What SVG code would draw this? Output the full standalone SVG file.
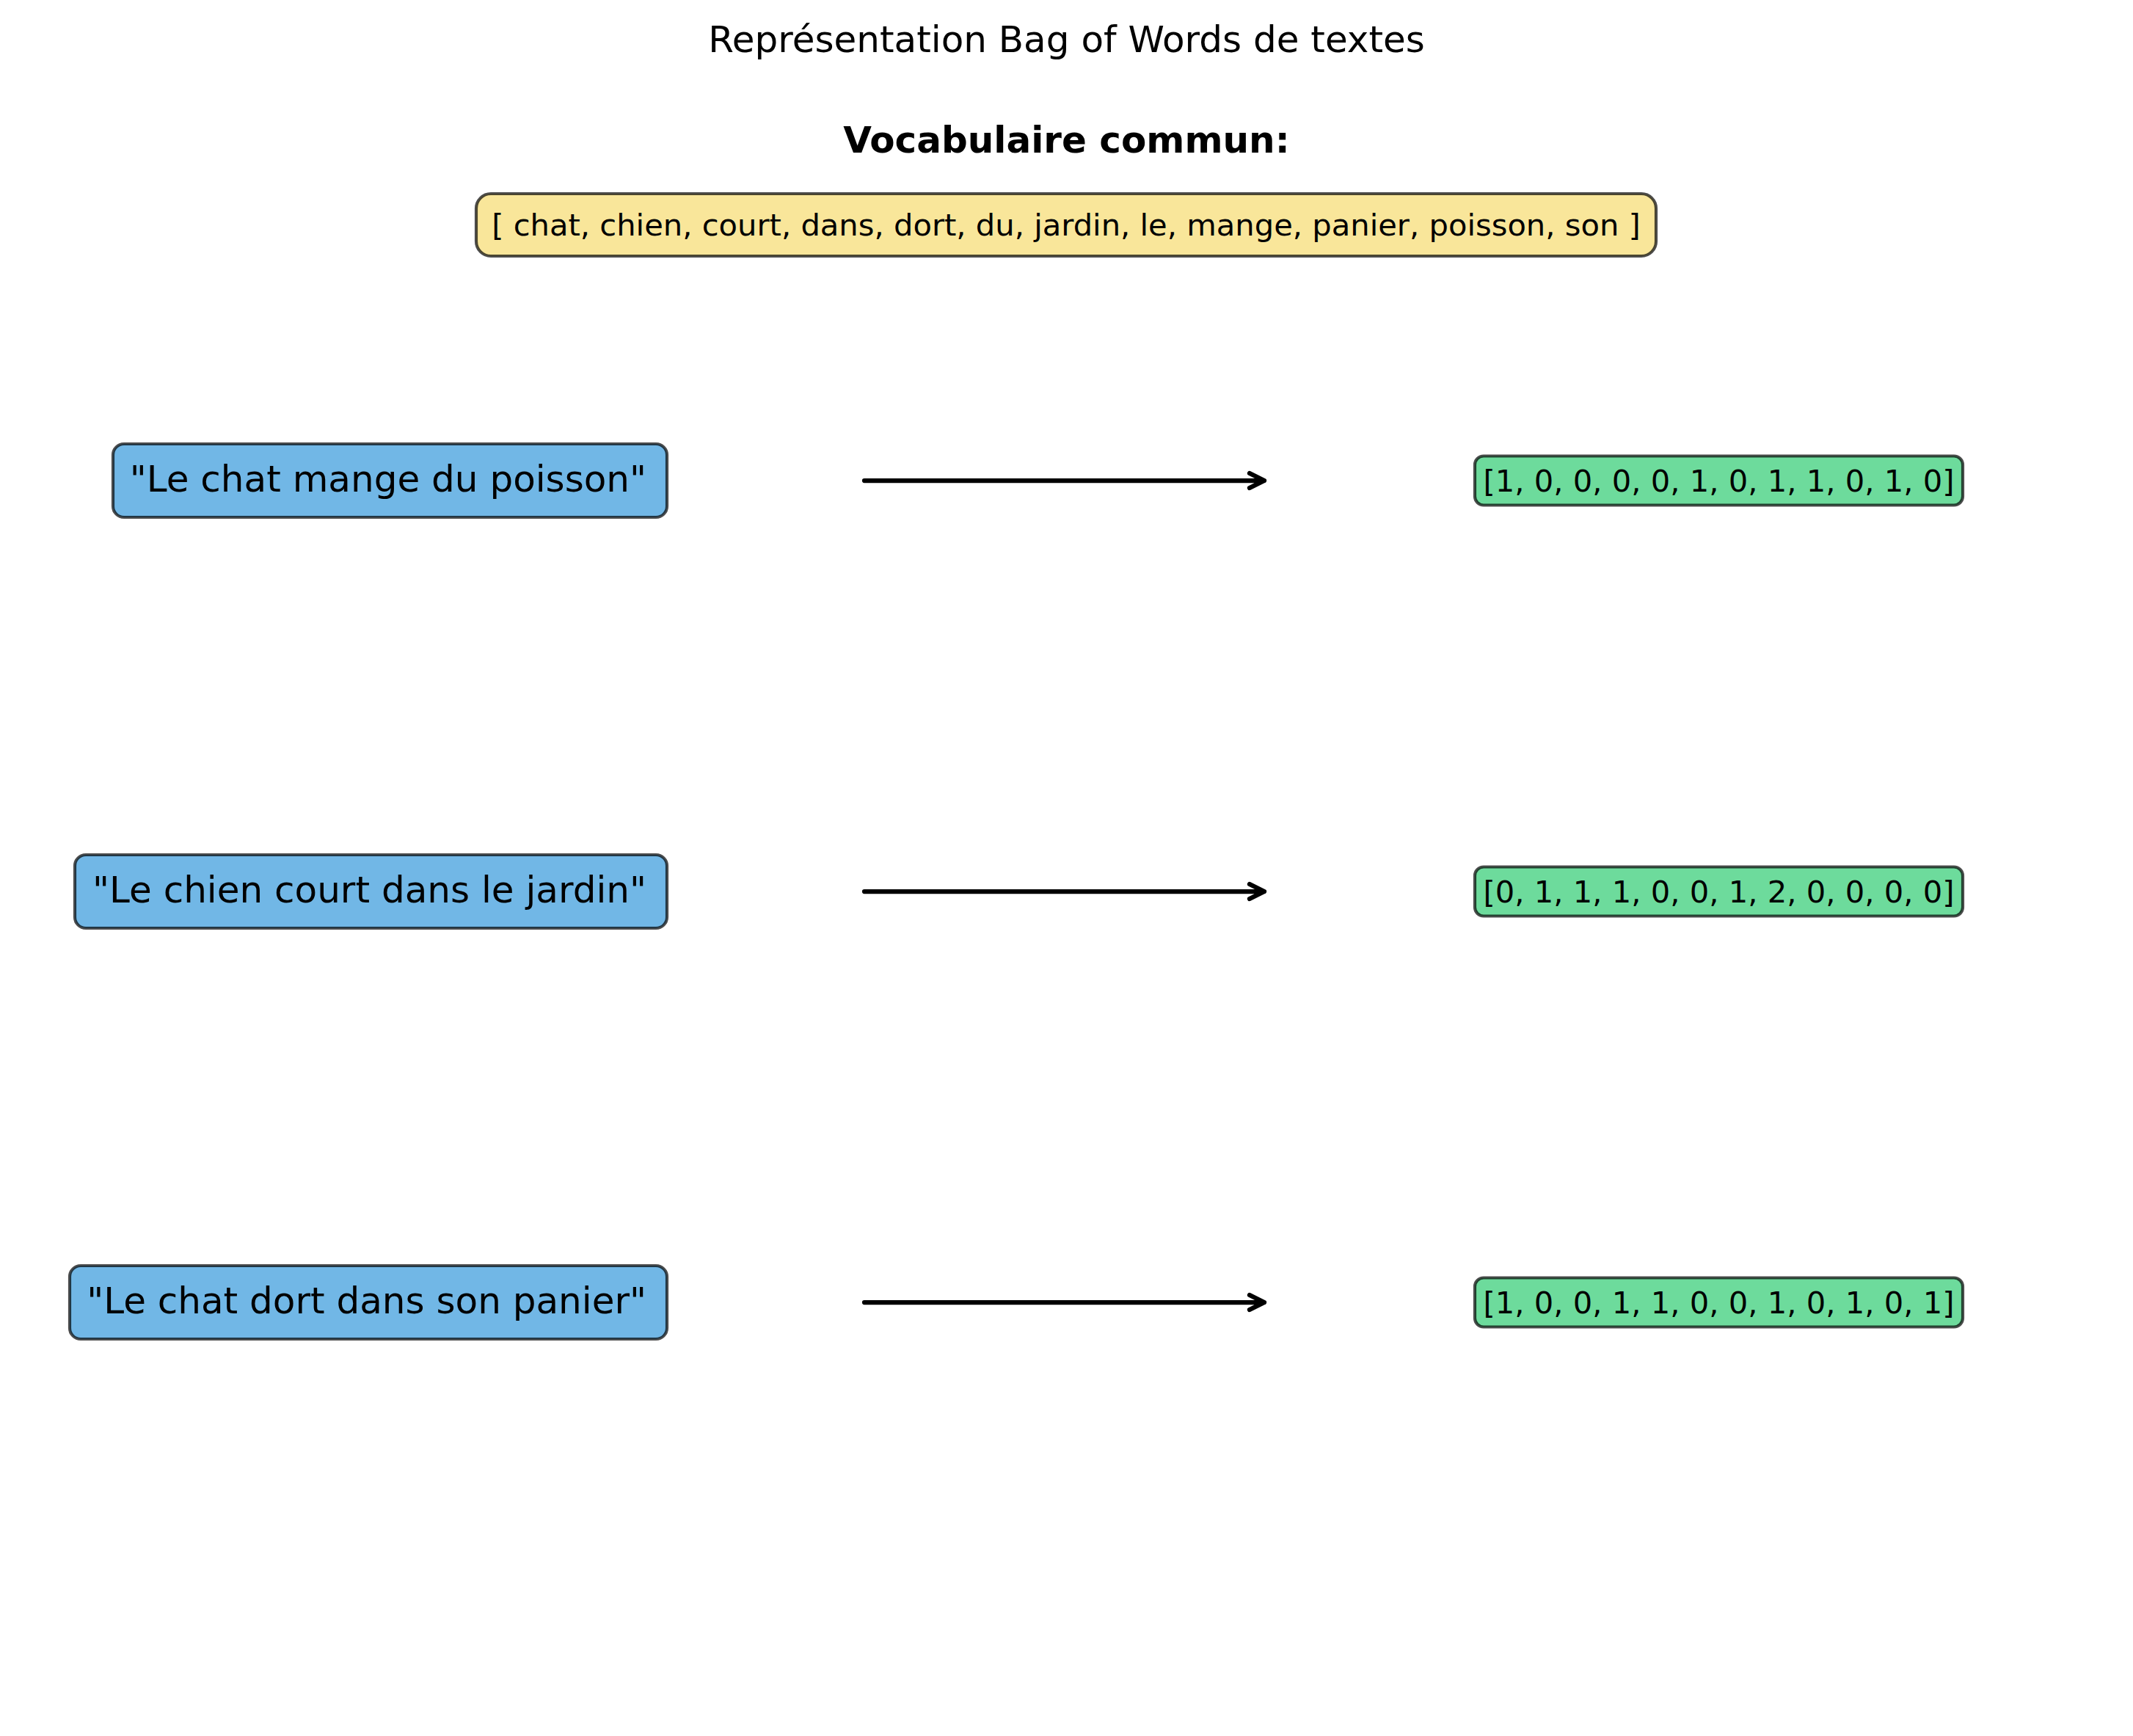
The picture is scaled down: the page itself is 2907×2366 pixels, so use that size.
<svg xmlns="http://www.w3.org/2000/svg" width="2907" height="2366" viewBox="0 0 2907 2366">
<style>
text { font-family: "DejaVu Sans", "Liberation Sans", sans-serif; fill: #000; }
.title { font-size: 50px; text-anchor: middle; }
.label { font-size: 50px; font-weight: bold; text-anchor: middle; }
.vocab { font-size: 41.67px; text-anchor: middle; }
.sent { font-size: 50px; text-anchor: end; }
.vec { font-size: 41.67px; text-anchor: middle; }
.box { stroke: #000; stroke-opacity: 0.7; stroke-width: 4.17; }
.yellow { fill: #f9e69a; }
.blue { fill: #71b7e6; }
.green { fill: #6ddb9c; }
.conn { stroke: #000; stroke-width: 6.25; fill: none; stroke-linecap: round; stroke-linejoin: round; }
</style>
<rect width="2907" height="2366" fill="#ffffff"/>
<text class="title" x="1453.5" y="71">Représentation Bag of Words de textes</text>
<g id="vocab-title">
<text class="label" x="1453.5" y="208">Vocabulaire commun:</text>
</g>
<g id="vocab">
<rect class="box yellow" x="649" y="264" width="1608" height="85" rx="20" ry="20"/>
<text class="vocab" x="1453" y="321">[ chat, chien, court, dans, dort, du, jardin, le, mange, panier, poisson, son ]</text>
</g>
<g id="text1">
<rect class="box blue" x="154" y="605" width="755" height="100" rx="15" ry="15"/>
<text class="sent" x="881" y="670">"Le chat mange du poisson"</text>
</g>
<g id="text2">
<rect class="box blue" x="102" y="1165" width="807" height="100" rx="15" ry="15"/>
<text class="sent" x="881" y="1230">"Le chien court dans le jardin"</text>
</g>
<g id="text3">
<rect class="box blue" x="95" y="1725" width="814" height="100" rx="15" ry="15"/>
<text class="sent" x="881" y="1790">"Le chat dort dans son panier"</text>
</g>
<g id="vector1">
<rect class="box green" x="2010" y="621.5" width="665" height="67" rx="12" ry="12"/>
<text class="vec" x="2342.5" y="670">[1, 0, 0, 0, 0, 1, 0, 1, 1, 0, 1, 0]</text>
</g>
<g id="vector2">
<rect class="box green" x="2010" y="1181.5" width="665" height="67" rx="12" ry="12"/>
<text class="vec" x="2342.5" y="1230">[0, 1, 1, 1, 0, 0, 1, 2, 0, 0, 0, 0]</text>
</g>
<g id="vector3">
<rect class="box green" x="2010" y="1741.5" width="665" height="67" rx="12" ry="12"/>
<text class="vec" x="2342.5" y="1790">[1, 0, 0, 1, 1, 0, 0, 1, 0, 1, 0, 1]</text>
</g>
<g id="connectors">
<path class="conn" d="M1178 655 H1723 M1703 645 L1723 655 L1703 665"/>
<path class="conn" d="M1178 1215 H1723 M1703 1205 L1723 1215 L1703 1225"/>
<path class="conn" d="M1178 1775 H1723 M1703 1765 L1723 1775 L1703 1785"/>
</g>
</svg>
